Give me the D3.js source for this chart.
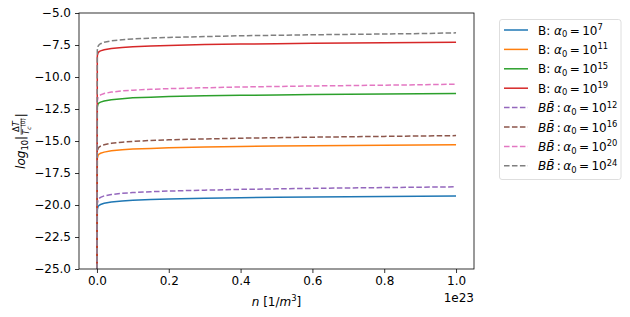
<!DOCTYPE html>
<html>
<head>
<meta charset="utf-8">
<script src="https://cdn.jsdelivr.net/npm/d3@7"></script>
<style>
  body { margin: 0; background: #fff; }
  text { font-family: "DejaVu Sans", sans-serif; fill: #000; }
</style>
</head>
<body>
<div id="chart"></div>
<script>
// n in units of 1e23 per m^3
var nValues = [0, 0.001, 0.003, 0.006, 0.01, 0.02, 0.04, 0.07, 0.1, 0.15, 0.2, 0.3, 0.4, 0.5, 0.6, 0.7, 0.8, 0.9, 1.0]

// B curves (solid)
var bA7  = [-30, -20.35, -20.12, -20.02, -19.96, -19.87, -19.77, -19.69, -19.63, -19.58, -19.53, -19.47, -19.43, -19.40, -19.37, -19.35, -19.33, -19.31, -19.30]
var bA11 = [-30, -16.35, -16.12, -16.02, -15.96, -15.87, -15.77, -15.69, -15.63, -15.58, -15.53, -15.47, -15.43, -15.40, -15.37, -15.35, -15.33, -15.31, -15.30]
var bA15 = [-30, -12.35, -12.12, -12.02, -11.96, -11.87, -11.77, -11.69, -11.63, -11.58, -11.53, -11.47, -11.43, -11.40, -11.37, -11.35, -11.33, -11.31, -11.29]
var bA19 = [-30, -8.35, -8.12, -8.02, -7.96, -7.87, -7.77, -7.69, -7.63, -7.58, -7.53, -7.47, -7.43, -7.40, -7.37, -7.35, -7.33, -7.31, -7.29]

// B Bbar curves (dashed)
var bbA12 = [-30, -19.90, -19.60, -19.48, -19.40, -19.29, -19.18, -19.09, -19.03, -18.96, -18.91, -18.84, -18.78, -18.74, -18.70, -18.67, -18.64, -18.61, -18.58]
var bbA16 = [-30, -15.90, -15.60, -15.48, -15.40, -15.29, -15.18, -15.09, -15.03, -14.96, -14.91, -14.84, -14.78, -14.74, -14.70, -14.67, -14.64, -14.61, -14.58]
var bbA20 = [-30, -11.90, -11.60, -11.48, -11.40, -11.29, -11.18, -11.09, -11.03, -10.96, -10.91, -10.84, -10.78, -10.74, -10.70, -10.67, -10.64, -10.61, -10.56]
var bbA24 = [-30, -7.90, -7.60, -7.48, -7.40, -7.29, -7.18, -7.09, -7.03, -6.96, -6.91, -6.84, -6.78, -6.74, -6.70, -6.67, -6.64, -6.61, -6.55]

var bExponents = ['7', '11', '15', '19']
var bbExponents = ['12', '16', '20', '24']
var xTicks = [0, 0.2, 0.4, 0.6, 0.8, 1.0]
var yTicks = [-25, -22.5, -20, -17.5, -15, -12.5, -10, -7.5, -5]

var colors = ['#1f77b4', '#ff7f0e', '#2ca02c', '#d62728', '#9467bd', '#8c564b', '#e377c2', '#7f7f7f']

var series = [
  { values: bA7,  kind: 'B',  exp: bExponents[0] },
  { values: bA11, kind: 'B',  exp: bExponents[1] },
  { values: bA15, kind: 'B',  exp: bExponents[2] },
  { values: bA19, kind: 'B',  exp: bExponents[3] },
  { values: bbA12, kind: 'BB', exp: bbExponents[0] },
  { values: bbA16, kind: 'BB', exp: bbExponents[1] },
  { values: bbA20, kind: 'BB', exp: bbExponents[2] },
  { values: bbA24, kind: 'BB', exp: bbExponents[3] }
]
series.forEach((s, i) => { s.color = colors[i] })

var W = 630, H = 317
var fs = 12
var mL = 79, mR = 474, mT = 13, mB = 269

var svg = d3.select('#chart').append('svg')
  .attr('width', W).attr('height', H)

var x = d3.scaleLinear().domain([-0.05, 1.05]).range([mL, mR])
var y = d3.scaleLinear().domain([-25, -5]).range([mB, mT])

svg.append('clipPath').attr('id', 'clip')
  .append('rect').attr('x', mL).attr('y', mT)
  .attr('width', mR - mL).attr('height', mB - mT)

var line = d3.line()
  .x((d, i) => x(nValues[i]))
  .y(d => y(d))

var plot = svg.append('g').attr('clip-path', 'url(#clip)')
series.forEach(s => {
  plot.append('path')
    .attr('d', line(s.values))
    .attr('fill', 'none')
    .attr('stroke', s.color)
    .attr('stroke-width', 1.5)
    .attr('stroke-dasharray', s.kind === 'BB' ? '5.55,2.4' : null)
})

// axes
var xAxis = d3.axisBottom(x).tickValues(xTicks).tickSize(4).tickPadding(3.5)
  .tickFormat(d3.format('.1f'))
var gx = svg.append('g').attr('transform', `translate(0,${mB})`).call(xAxis)

var yAxis = d3.axisLeft(y).tickValues(yTicks).tickSize(4).tickPadding(4)
  .tickFormat(d => d3.format('.1f')(d).replace('-', '\u2212'))
var gy = svg.append('g').attr('transform', `translate(${mL},0)`).call(yAxis)

;[gx, gy].forEach(g => {
  g.select('.domain').remove()
  g.selectAll('line').attr('stroke', '#000').attr('stroke-width', 0.8)
  g.selectAll('text').attr('font-size', fs).attr('font-family', 'DejaVu Sans').attr('fill', '#000')
})

svg.append('rect')
  .attr('x', mL).attr('y', mT)
  .attr('width', mR - mL).attr('height', mB - mT)
  .attr('fill', 'none').attr('stroke', '#000').attr('stroke-width', 0.8)

svg.append('text')
  .attr('x', mR).attr('y', 302)
  .attr('text-anchor', 'end').attr('font-size', fs)
  .text('1e23')

// helper for math-like text
function mathText(sel, parts, size) {
  parts.forEach(p => {
    var t = sel.append('tspan').text(p.t)
    if (p.it) t.attr('font-style', 'italic')
    if (p.sub) t.attr('font-size', size * 0.7).attr('dy', size * 0.22)
    if (p.sup) t.attr('font-size', size * 0.7).attr('dy', -size * 0.38)
    if (p.back) t.attr('dy', p.back)
  })
}

// x label
var xl = svg.append('text')
  .attr('x', (mL + mR) / 2).attr('y', 306)
  .attr('text-anchor', 'middle').attr('font-size', fs)
mathText(xl, [{ t: 'n', it: true }, { t: ' [1/' }, { t: 'm', it: true }, { t: '3', sup: true },
  { t: ']', back: fs * 0.38 }], fs)

// y label (rotated)
var yl = svg.append('g').attr('transform', `translate(25,${(mT + mB) / 2}) rotate(-90)`)
var ylA = yl.append('text').attr('font-size', fs)
mathText(ylA, [{ t: 'log', it: true }, { t: '10', sub: true }, { t: '|', back: -fs * 0.22 }], fs)
var wA = ylA.node().getComputedTextLength()
var small = fs * 0.7
var num = yl.append('text').attr('font-size', small).attr('y', -6).attr('text-anchor', 'middle')
mathText(num, [{ t: '\u0394' }, { t: 'T', it: true }], small)
var den = yl.append('text').attr('font-size', small).attr('y', 4).attr('text-anchor', 'middle')
mathText(den, [{ t: 'T', it: true }, { t: 'c', it: true, sub: true }, { t: '(0)', back: -small * 0.22 - small * 0.5 }], small)
den.select('tspan:last-child').attr('font-size', small * 0.7)
var fw = Math.max(num.node().getComputedTextLength(), den.node().getComputedTextLength())
var ylB = yl.append('text').attr('font-size', fs).text('|')
var total = wA + fw + 2 + ylB.node().getComputedTextLength()
var x0 = -total / 2
ylA.attr('x', x0)
num.attr('x', x0 + wA + 1 + fw / 2)
den.attr('x', x0 + wA + 1 + fw / 2)
ylB.attr('x', x0 + wA + fw + 2)
yl.append('line').attr('x1', x0 + wA + 1).attr('x2', x0 + wA + 1 + fw)
  .attr('y1', -3.8).attr('y2', -3.8).attr('stroke', '#000').attr('stroke-width', 0.6)

// legend
var lg = svg.append('g')
lg.append('rect')
  .attr('x', 499.5).attr('y', 19.5).attr('width', 121.5).attr('height', 160)
  .attr('rx', 2.5).attr('fill', '#fff').attr('stroke', '#d6d6d6').attr('stroke-width', 0.8)

series.forEach((s, i) => {
  var ry = 30 + i * 19.4
  lg.append('line')
    .attr('x1', 504).attr('x2', 528).attr('y1', ry).attr('y2', ry)
    .attr('stroke', s.color).attr('stroke-width', 1.5)
    .attr('stroke-dasharray', s.kind === 'BB' ? '5.55,2.4' : null)
  var t = lg.append('text').attr('x', 538).attr('y', ry + 4.5).attr('font-size', fs)
  var head = s.kind === 'B'
    ? [{ t: 'B: ' }]
    : [{ t: 'BB\u0304', it: true }, { t: '\u2009:\u2009' }]
  mathText(t, head.concat([
    { t: '\u03b1', it: true }, { t: '0', sub: true },
    { t: '\u2009=\u200910', back: -fs * 0.22 }, { t: s.exp, sup: true }
  ]), fs)
})
</script>
</body>
</html>
